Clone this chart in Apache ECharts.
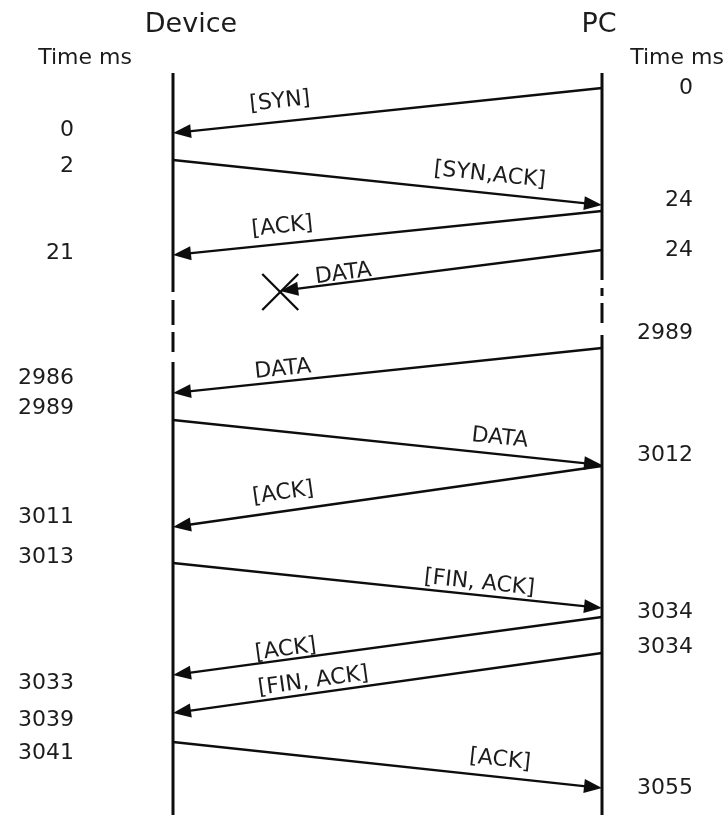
<!DOCTYPE html>
<html><head><meta charset="utf-8">
<script src="https://cdn.jsdelivr.net/npm/echarts@6/dist/echarts.min.js"></script>
<style>html,body{margin:0;padding:0;background:#fff}#c{width:728px;height:819px}</style>
</head><body><div id="c"></div>
<script>
// ---- data ----
const participants = ['Device', 'PC'];
// messages (participant index 0 = Device, 1 = PC; fractional "to" = lost in transit)
const msgLabels = ['[SYN]', '[SYN,ACK]', '[ACK]', 'DATA', 'DATA', 'DATA', '[ACK]', '[FIN, ACK]', '[ACK]', '[FIN, ACK]', '[ACK]'];
const msgFrom   = [1, 0, 1, 1, 1, 0, 1, 0, 1, 1, 0];
const msgTo     = [0, 1, 0, 0.25, 0, 1, 0, 1, 0, 0, 1];
const msgLost   = [0, 0, 0, 1, 0, 0, 0, 0, 0, 0, 0];
// vertical position along the lifelines (diagram rows)
const msgSendRow = [88, 160, 211, 250, 348, 420, 466, 563, 617, 653, 742];
const msgRecvRow = [133, 205, 255, 291, 393, 465, 527, 608, 675, 713, 788];
// time stamps
const deviceTimes   = ['0', '2', '21', '2986', '2989', '3011', '3013', '3033', '3039', '3041'];
const deviceTimeRow = [130, 166, 253, 378, 408, 517, 557, 683, 720, 753];
const pcTimes   = ['0', '24', '24', '2989', '3012', '3034', '3034', '3055'];
const pcTimeRow = [88, 200, 250, 333, 455, 612, 647, 788];
// lifeline pieces (a break in the middle drawn as dashes)
const segParticipant = [0, 0, 0, 0, 1, 1, 1, 1];
const segStart = [73, 300, 332, 362, 73, 288, 303, 335];
const segEnd   = [292, 325, 352, 815, 280, 296, 323, 815];

// ---- layout / style ----
const LABEL_T    = [0.746, 0.734, 0.741, 0.80, 0.741, 0.758, 0.737, 0.711, 0.734, 0.669, 0.758];
const LABEL_LIFT = [20, 18, 17, 9, 12, 16, 18, 12, 10, 12, 17];
const W = 728, H = 819, LX0 = 173, LX1 = 602, U = LX1 - LX0;
const FONT = '"DejaVu Sans", sans-serif';
const TXT = '#1c1c1c';
const INK = '#0d0d0d';
const FS = 22;

const chart = echarts.init(document.getElementById('c'));

const msgData = msgLabels.map((l, i) => [msgFrom[i], msgSendRow[i], msgTo[i], msgRecvRow[i]]);
const segData = segParticipant.map((p, i) => [p, segStart[i], segEnd[i]]);
const devData = deviceTimes.map((t, i) => [0, deviceTimeRow[i]]);
const pcData = pcTimes.map((t, i) => [1, pcTimeRow[i]]);

function renderMsg(params, api) {
  const i = params.dataIndex;
  const p0 = api.coord([api.value(0), api.value(1)]);
  const p1 = api.coord([api.value(2), api.value(3)]);
  const dx = p1[0] - p0[0], dy = p1[1] - p0[1];
  const len = Math.sqrt(dx * dx + dy * dy);
  const ux = dx / len, uy = dy / len;
  const L = 18, hw = 7;
  const bx = p1[0] - ux * L, by = p1[1] - uy * L;
  const children = [
    { type: 'line', shape: { x1: p0[0], y1: p0[1], x2: bx + ux * 2, y2: by + uy * 2 }, style: { stroke: INK, lineWidth: 2.3 } },
    { type: 'polygon', shape: { points: [[p1[0], p1[1]], [bx - uy * hw, by + ux * hw], [bx + uy * hw, by - ux * hw]] }, style: { fill: INK } }
  ];
  // label, kept upright
  let lx = ux, ly = uy;
  if (lx < 0) { lx = -lx; ly = -ly; }
  const t = LABEL_T[i], lift = LABEL_LIFT[i];
  const cx = p0[0] + dx * t + ly * lift, cy = p0[1] + dy * t - lx * lift;
  children.push({
    type: 'text', x: cx, y: cy, rotation: -Math.atan2(ly, lx),
    style: { text: msgLabels[i], fill: TXT, fontSize: FS, fontFamily: FONT, align: 'center', verticalAlign: 'middle' }
  });
  if (msgLost[i]) {
    const s = 18;
    const c = [p1[0], p1[1] + 1];
    children.push({ type: 'line', shape: { x1: c[0] - s, y1: c[1] - s, x2: c[0] + s, y2: c[1] + s }, style: { stroke: INK, lineWidth: 2.3 } });
    children.push({ type: 'line', shape: { x1: c[0] - s, y1: c[1] + s, x2: c[0] + s, y2: c[1] - s }, style: { stroke: INK, lineWidth: 2.3 } });
  }
  return { type: 'group', children };
}

function renderSeg(params, api) {
  const a = api.coord([api.value(0), api.value(1)]);
  const b = api.coord([api.value(0), api.value(2)]);
  return { type: 'line', shape: { x1: a[0], y1: a[1], x2: b[0], y2: b[1] }, style: { stroke: INK, lineWidth: 3 } };
}

function makeTimeRenderer(texts, dxOff) {
  return function (params, api) {
    const p = api.coord([api.value(0), api.value(1)]);
    return {
      type: 'text', x: p[0] + dxOff, y: p[1],
      style: { text: texts[params.dataIndex], fill: TXT, fontSize: FS, fontFamily: FONT, align: 'right', verticalAlign: 'middle' }
    };
  };
}

chart.setOption({
  animation: false,
  backgroundColor: '#fff',
  grid: { left: 0, right: 0, top: 0, bottom: 0 },
  xAxis: { type: 'value', min: -LX0 / U, max: (W - LX0) / U, show: false },
  yAxis: { type: 'value', min: 0, max: H, inverse: true, show: false },
  graphic: [
    { type: 'text', x: 191, y: 25, style: { text: participants[0], fill: TXT, fontSize: 27, fontFamily: FONT, align: 'center', verticalAlign: 'middle' } },
    { type: 'text', x: 599, y: 25, style: { text: participants[1], fill: TXT, fontSize: 27, fontFamily: FONT, align: 'center', verticalAlign: 'middle' } },
    { type: 'text', x: 85, y: 58, style: { text: 'Time ms', fill: TXT, fontSize: FS, fontFamily: FONT, align: 'center', verticalAlign: 'middle' } },
    { type: 'text', x: 677, y: 58, style: { text: 'Time ms', fill: TXT, fontSize: FS, fontFamily: FONT, align: 'center', verticalAlign: 'middle' } }
  ],
  series: [
    { type: 'custom', coordinateSystem: 'cartesian2d', data: segData, renderItem: renderSeg, silent: true },
    { type: 'custom', coordinateSystem: 'cartesian2d', data: msgData, renderItem: renderMsg, silent: true },
    { type: 'custom', coordinateSystem: 'cartesian2d', data: devData, renderItem: makeTimeRenderer(deviceTimes, -99), silent: true },
    { type: 'custom', coordinateSystem: 'cartesian2d', data: pcData, renderItem: makeTimeRenderer(pcTimes, 91), silent: true }
  ]
});
</script>
</body></html>
